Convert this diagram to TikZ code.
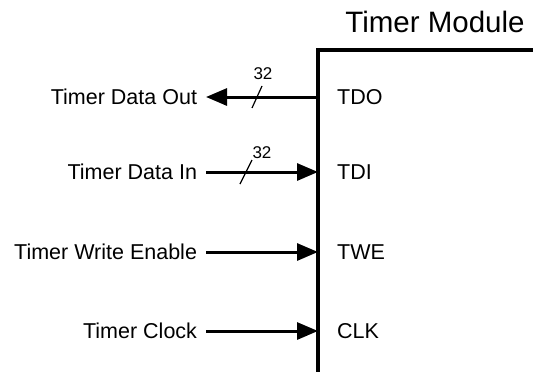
\documentclass[tikz,border=0pt]{standalone}
\usepackage{fontspec}
\setmainfont{Liberation Sans}
\usepackage{tikz}
\usetikzlibrary{calc,arrows.meta}

\begin{document}
\begin{tikzpicture}[x=1pt,y=-1pt,
    sig/.style={anchor=east,inner sep=0pt,outer xsep=9pt,font=\fontsize{21.5}{24}\selectfont},
    pinlbl/.style={anchor=west,inner sep=0pt,font=\fontsize{21.5}{24}\selectfont},
    width/.style={inner sep=0pt,font=\fontsize{17}{19}\selectfont},
    wire/.style={line width=3pt,-{Triangle[length=21pt,width=17pt]}}]
      \useasboundingbox(0,0)rectangle(533,372);
      % module outline
      \draw[line width=4.5pt](533,50)--(318,50)--(318,372);
      \node[font=\fontsize{29.5}{32}\selectfont,inner sep=0pt](title) at (435,22){Timer Module};

      % edge points of the module
      \coordinate(eTDO) at (318,97);
      \coordinate(eTDI) at (318,172);
      \coordinate(eTWE) at (318,252);
      \coordinate(eCLK) at (318,331);

      \node[pinlbl](tdo) at (337,97){TDO};
      \node[pinlbl](tdi) at (337,172){TDI};
      \node[pinlbl](twe) at (337,252){TWE};
      \node[pinlbl](clk) at (337,331){CLK};

      \node[sig](dout) at (206,97){Timer Data Out};
      \node[sig](din) at (206,172){Timer Data In};
      \node[sig](wen) at (206,252){Timer Write Enable};
      \node[sig](tclk) at (206,331){Timer Clock};

      \draw[wire](eTDO)--(dout.east);
      \draw[wire](din.east)--(eTDI);
      \draw[wire](wen.east)--(eTWE);
      \draw[wire](tclk.east)--(eCLK);

      % bus width marks
      \coordinate(b1) at (257,97);
      \coordinate(b2) at (246,172);
      \draw[line width=1.2pt]($(b1)+(-5,11)$)--($(b1)+(5,-11)$);
      \draw[line width=1.2pt]($(b2)+(-6,12)$)--($(b2)+(6,-12)$);
      \node[width](w1) at (263,74){32};
      \node[width](w2) at (262,153){32};
\end{tikzpicture}
\end{document}
